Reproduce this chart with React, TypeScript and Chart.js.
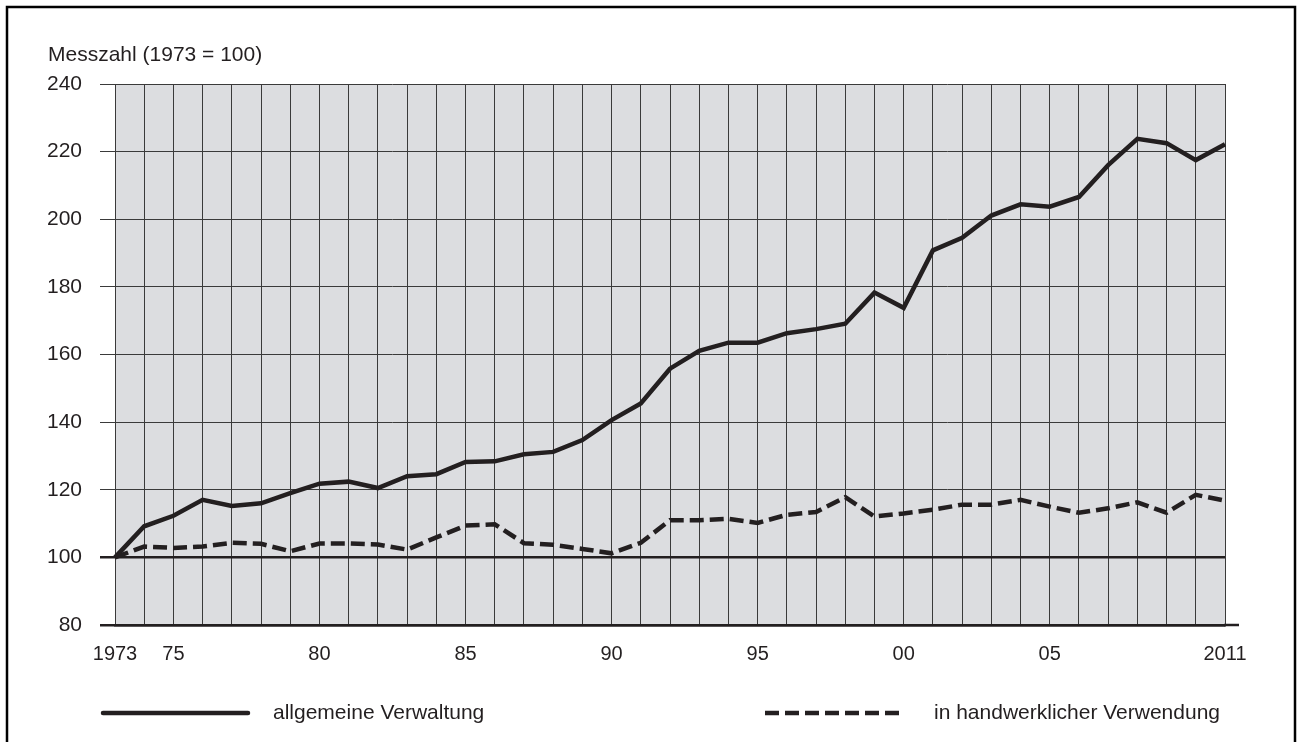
import React, { useEffect, useRef } from 'react';
import { Chart, registerables } from 'chart.js';

Chart.register(...registerables);

const years = [
  '1973', '1974', '1975', '1976', '1977', '1978', '1979', '1980', '1981', '1982',
  '1983', '1984', '1985', '1986', '1987', '1988', '1989', '1990', '1991', '1992',
  '1993', '1994', '1995', '1996', '1997', '1998', '1999', '2000', '2001', '2002',
  '2003', '2004', '2005', '2006', '2007', '2008', '2009', '2010', '2011',
];

const allgemeineVerwaltung = [
  100, 109.2, 112.3, 117, 115.2, 116, 119, 121.8, 122.4, 120.5,
  124, 124.6, 128.2, 128.4, 130.5, 131.2, 134.7, 140.6, 145.5, 155.8,
  161.1, 163.5, 163.5, 166.3, 167.5, 169.1, 178.3, 173.8, 190.8, 194.5,
  201.1, 204.4, 203.7, 206.6, 216, 223.8, 222.5, 217.5, 222.2,
];

const handwerklicheVerwendung = [
  100, 103.2, 102.8, 103.2, 104.3, 104, 101.8, 104.1, 104.1, 103.8,
  102.3, 105.9, 109.4, 109.8, 104.2, 103.7, 102.5, 101.2, 104.3, 111,
  111, 111.4, 110.2, 112.6, 113.4, 117.8, 112.1, 113, 114.1, 115.6,
  115.6, 117, 115, 113.2, 114.5, 116.3, 113.2, 118.5, 116.8,
];

const xTickYears = ['1973', '1975', '1980', '1985', '1990', '1995', '2000', '2005', '2011'];
const xTickTexts = ['1973', '75', '80', '85', '90', '95', '00', '05', '2011'];

const seriesLabels = ['allgemeine Verwaltung', 'in handwerklicher Verwendung'];
const axisTitle = 'Messzahl (1973 = 100)';

const INK = '#231f20';
const GRID = '#3a3a3a';
const FONT = '"Liberation Sans", Arial, sans-serif';

const extrasPlugin = {
  id: 'extras',
  beforeDraw(chart: any) {
    const { ctx, chartArea } = chart;
    ctx.save();
    ctx.fillStyle = '#dcdde0';
    ctx.fillRect(chartArea.left, chartArea.top, chartArea.right - chartArea.left, chartArea.bottom - chartArea.top);
    ctx.restore();
  },
  afterDraw(chart: any) {
    const { ctx, chartArea } = chart;
    ctx.save();
    ctx.strokeStyle = INK;
    ctx.lineWidth = 2.5;
    ctx.beginPath();
    ctx.moveTo(chartArea.right - 1, chartArea.bottom);
    ctx.lineTo(chartArea.right + 14, chartArea.bottom);
    ctx.stroke();

    ctx.fillStyle = INK;
    ctx.font = `21px ${FONT}`;
    ctx.textAlign = 'left';
    ctx.textBaseline = 'alphabetic';
    ctx.fillText(axisTitle, 48, 61);

    const ds = chart.data.datasets;
    const legendY = 713;
    const items = [
      { x0: 103, x1: 248, tx: 273, d: ds[0] },
      { x0: 765, x1: 905, tx: 934, d: ds[1] },
    ];
    items.forEach((it) => {
      ctx.save();
      ctx.strokeStyle = it.d.borderColor;
      ctx.lineWidth = it.d.borderWidth;
      ctx.lineCap = it.d.borderDash && it.d.borderDash.length ? 'butt' : 'round';
      ctx.setLineDash(it.d.borderDash || []);
      ctx.beginPath();
      ctx.moveTo(it.x0, legendY);
      ctx.lineTo(it.x1, legendY);
      ctx.stroke();
      ctx.restore();
      ctx.fillStyle = INK;
      ctx.font = `21px ${FONT}`;
      ctx.textBaseline = 'middle';
      ctx.fillText(it.d.label, it.tx, legendY);
    });

    ctx.strokeStyle = '#000';
    ctx.lineWidth = 2.5;
    ctx.setLineDash([]);
    ctx.strokeRect(7, 7, 1288, 780);
    ctx.restore();
  },
};

export default function App() {
  const canvasRef = useRef<HTMLCanvasElement | null>(null);

  useEffect(() => {
    document.body.style.overflow = 'hidden';
    const canvas = canvasRef.current;
    if (!canvas) return;
    const chart = new Chart(canvas, {
      type: 'line',
      data: {
        labels: years,
        datasets: [
          {
            label: seriesLabels[0],
            data: allgemeineVerwaltung,
            borderColor: INK,
            borderWidth: 4.5,
            pointRadius: 0,
            tension: 0,
            fill: false,
            borderJoinStyle: 'miter',
          },
          {
            label: seriesLabels[1],
            data: handwerklicheVerwendung,
            borderColor: INK,
            borderWidth: 4.5,
            borderDash: [14, 6],
            pointRadius: 0,
            tension: 0,
            fill: false,
          },
        ],
      },
      options: {
        animation: false,
        responsive: false,
        devicePixelRatio: 1,
        layout: { padding: { left: 0, top: 84, right: 77, bottom: 77 } },
        plugins: {
          legend: { display: false },
          title: { display: false },
          tooltip: { enabled: false },
        },
        scales: {
          x: {
            type: 'category',
            offset: false,
            afterFit: (s: any) => { s.height = 40; },
            grid: {
              color: GRID,
              lineWidth: 1,
              drawTicks: false,
              offset: false,
            },
            border: { display: true, color: INK, width: 2.5 },
            ticks: {
              autoSkip: false,
              maxRotation: 0,
              minRotation: 0,
              padding: 17,
              color: INK,
              font: { family: FONT, size: 20 },
              callback: (_v: any, i: number) => {
                const k = xTickYears.indexOf(years[i]);
                return k >= 0 ? xTickTexts[k] : '';
              },
            },
          },
          y: {
            min: 80,
            max: 240,
            afterFit: (s: any) => { s.width = 115; },
            grid: {
              color: (c: any) => (c.tick && (c.tick.value === 100 || c.tick.value === 80) ? INK : GRID),
              lineWidth: (c: any) => (c.tick && (c.tick.value === 100 || c.tick.value === 80) ? 2.5 : 1),
              drawTicks: true,
              tickLength: 15,
            },
            border: { display: false },
            ticks: {
              stepSize: 20,
              padding: 18,
              color: INK,
              font: { family: FONT, size: 21 },
            },
          },
        },
      },
      plugins: [extrasPlugin],
    } as any);
    return () => chart.destroy();
  }, []);

  return (
    <div style={{ position: 'absolute', left: 0, top: 0, width: 1302, height: 742, background: '#fff' }}>
      <canvas ref={canvasRef} width={1302} height={742} style={{ display: 'block' }} />
    </div>
  );
}
